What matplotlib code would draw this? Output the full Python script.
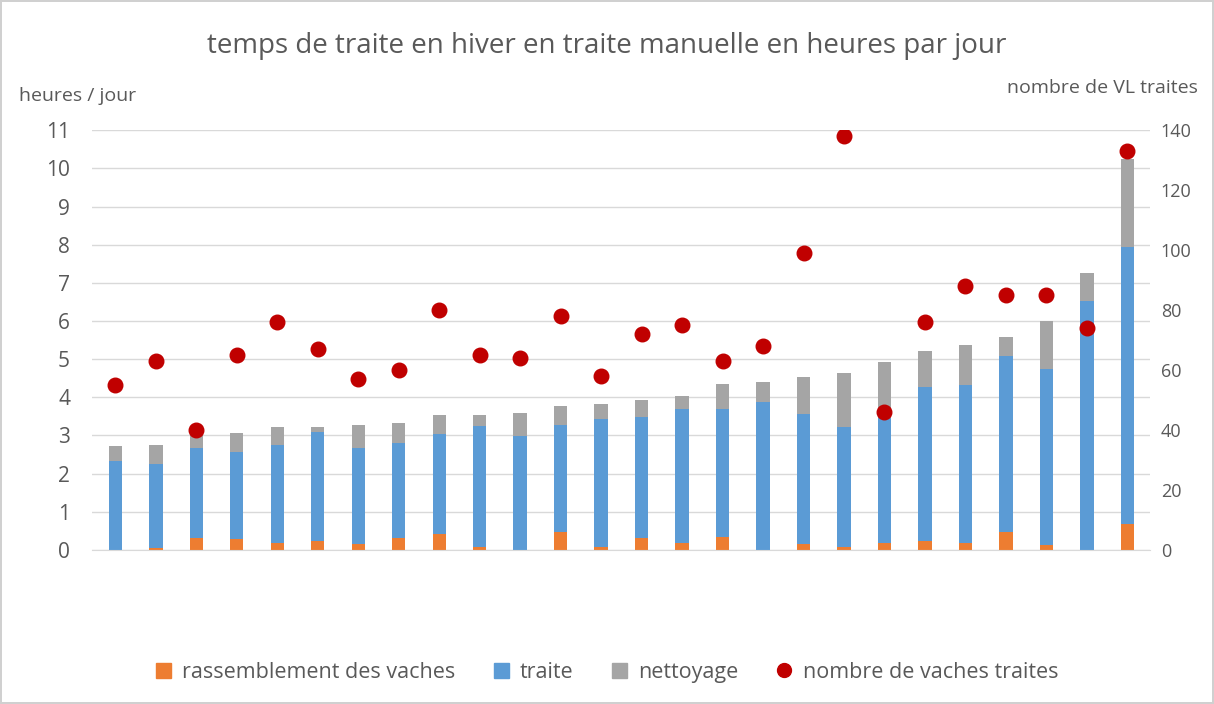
import matplotlib.pyplot as plt
from matplotlib.lines import Line2D
from matplotlib.patches import Patch
import numpy as np

plt.rcParams["font.family"] = ["Open Sans", "DejaVu Sans"]

# hours per day (stack: gathering, milking, cleaning)
rassemblement = [0.00, 0.05, 0.31, 0.28, 0.17, 0.23, 0.14, 0.31, 0.42, 0.08,
                 0.00, 0.48, 0.08, 0.32, 0.19, 0.34, 0.00, 0.14, 0.08, 0.17,
                 0.22, 0.17, 0.48, 0.13, 0.00, 0.68]
traite_top = [2.34, 2.25, 2.66, 2.57, 2.75, 3.10, 2.66, 2.80, 3.04, 3.25,
              2.98, 3.27, 3.42, 3.47, 3.68, 3.68, 3.88, 3.56, 3.22, 3.45,
              4.26, 4.32, 5.07, 4.75, 6.52, 7.94]
total = [2.72, 2.74, 3.00, 3.05, 3.23, 3.23, 3.26, 3.32, 3.53, 3.53,
         3.59, 3.76, 3.82, 3.93, 4.03, 4.34, 4.39, 4.54, 4.63, 4.92,
         5.21, 5.36, 5.59, 5.99, 7.26, 10.25]
# number of milked cows (right axis)
nb_vaches = [55, 63, 40, 65, 76, 67, 57, 60, 80, 65, 64, 78, 58, 72, 75, 63,
             68, 99, 138, 46, 76, 88, 85, 85, 74, 133]

traite = [t - r for t, r in zip(traite_top, rassemblement)]
nettoyage = [a - t for a, t in zip(total, traite_top)]

c_orange = "#ED7D31"
c_blue = "#5B9BD5"
c_grey = "#A5A5A5"
c_red = "#C00000"
c_text = "#595959"

fig = plt.figure(figsize=(12.14, 7.04), dpi=100)
fig.patch.set_edgecolor("#D0D0D0")
fig.patch.set_linewidth(1.5)
ax = fig.add_axes([0.076, 0.219, 0.871, 0.596])

x = np.arange(len(total))
w = 0.33
ax.bar(x, rassemblement, w, color=c_orange, zorder=2)
ax.bar(x, traite, w, bottom=rassemblement, color=c_blue, zorder=2)
ax.bar(x, nettoyage, w, bottom=traite_top, color=c_grey, zorder=2)

ax.set_xlim(-0.57, len(total) - 0.45)
ax.set_ylim(0, 11)
ax.set_yticks(range(0, 12))
ax.set_xticks([])
ax.grid(axis="y", color="#D9D9D9", linewidth=1, zorder=0)
for s in ["top", "right", "left"]:
    ax.spines[s].set_visible(False)
ax.spines["bottom"].set_color("#D9D9D9")
ax.tick_params(axis="y", length=0, labelsize=15, labelcolor=c_text, pad=16)

ax2 = ax.twinx()
ax2.scatter(x, nb_vaches, s=110, color=c_red, zorder=3)
ax2.set_ylim(0, 140)
ax2.set_yticks(range(0, 141, 20))
for s in ax2.spines.values():
    s.set_visible(False)
ax2.tick_params(axis="y", length=0, labelsize=13, labelcolor=c_text, pad=8)

fig.text(0.5, 0.935, "temps de traite en hiver en traite manuelle en heures par jour",
         ha="center", va="center", fontsize=20, color=c_text)
fig.text(0.016, 0.864, "heures / jour", ha="left", va="center", fontsize=14,
         color=c_text)
fig.text(0.987, 0.875, "nombre de VL traites", ha="right", va="center",
         fontsize=14, color=c_text)

handles = [
    Patch(color=c_orange, label="rassemblement des vaches"),
    Patch(color=c_blue, label="traite"),
    Patch(color=c_grey, label="nettoyage"),
    Line2D([], [], marker="o", linestyle="none", color=c_red, markersize=10,
           label="nombre de vaches traites"),
]
leg = fig.legend(handles=handles, loc="center", bbox_to_anchor=(0.5, 0.045), ncol=4,
                 frameon=False, fontsize=15.5, handlelength=0.7, handleheight=0.7,
                 columnspacing=1.8, handletextpad=0.5)
for t in leg.get_texts():
    t.set_color(c_text)

fig.savefig("out.png", dpi=100)
